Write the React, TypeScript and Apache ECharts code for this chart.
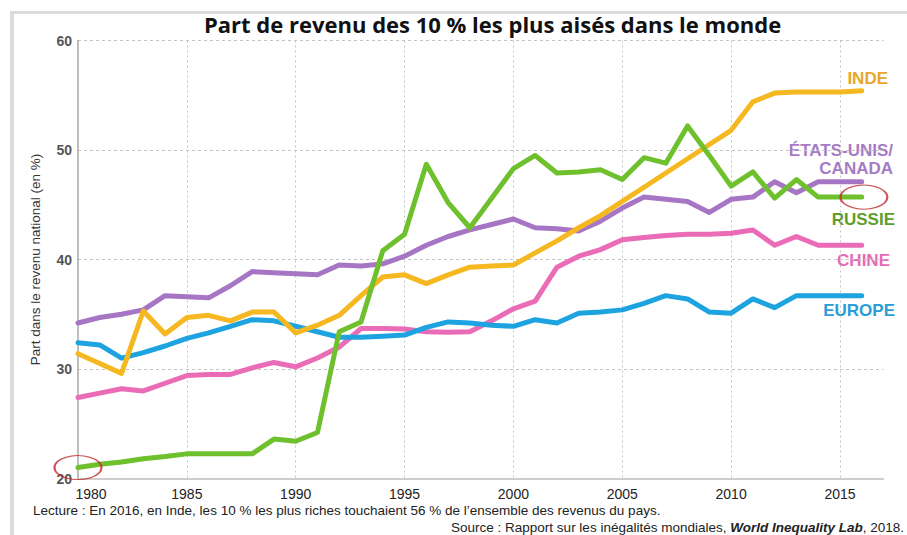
import React, { useEffect, useRef } from 'react';
import * as echarts from 'echarts';

const years = [1980, 1981, 1982, 1983, 1984, 1985, 1986, 1987, 1988, 1989, 1990, 1991, 1992, 1993, 1994, 1995, 1996, 1997, 1998, 1999, 2000, 2001, 2002, 2003, 2004, 2005, 2006, 2007, 2008, 2009, 2010, 2011, 2012, 2013, 2014, 2015, 2016];

const inde = [31.4, 30.5, 29.6, 35.3, 33.2, 34.7, 34.9, 34.4, 35.2, 35.2, 33.3, 34.0, 34.9, 36.7, 38.4, 38.6, 37.8, 38.6, 39.3, 39.4, 39.5, 40.6, 41.7, 42.9, 44.0, 45.3, 46.6, 47.9, 49.2, 50.5, 51.8, 54.4, 55.2, 55.3, 55.3, 55.3, 55.4];
const usCanada = [34.2, 34.7, 35.0, 35.4, 36.7, 36.6, 36.5, 37.6, 38.9, 38.8, 38.7, 38.6, 39.5, 39.4, 39.6, 40.3, 41.3, 42.1, 42.7, 43.2, 43.7, 42.9, 42.8, 42.6, 43.5, 44.7, 45.7, 45.5, 45.3, 44.3, 45.5, 45.7, 47.1, 46.1, 47.1, 47.1, 47.1];
const russie = [21.0, 21.3, 21.5, 21.8, 22.0, 22.25, 22.25, 22.25, 22.25, 23.6, 23.4, 24.2, 33.4, 34.3, 40.8, 42.3, 48.7, 45.2, 42.9, 45.6, 48.3, 49.5, 47.9, 48.0, 48.2, 47.3, 49.3, 48.8, 52.2, 49.5, 46.7, 48.0, 45.6, 47.3, 45.7, 45.7, 45.7];
const chine = [27.4, 27.8, 28.2, 28.0, 28.7, 29.4, 29.5, 29.5, 30.1, 30.6, 30.2, 31.0, 32.0, 33.7, 33.7, 33.65, 33.4, 33.35, 33.4, 34.4, 35.5, 36.2, 39.3, 40.3, 40.9, 41.8, 42.0, 42.2, 42.3, 42.3, 42.4, 42.7, 41.3, 42.1, 41.3, 41.3, 41.3];
const europe = [32.4, 32.2, 31.0, 31.5, 32.1, 32.8, 33.3, 33.9, 34.5, 34.4, 33.9, 33.4, 32.9, 32.9, 33.0, 33.1, 33.8, 34.3, 34.2, 34.0, 33.9, 34.5, 34.2, 35.1, 35.2, 35.4, 36.0, 36.7, 36.4, 35.2, 35.1, 36.4, 35.6, 36.7, 36.7, 36.7, 36.7];

const circledPoints = [[1980, 21.0], [2016.1, 45.7]];

const titleText = 'Part de revenu des 10 % les plus aisés dans le monde';
const yAxisName = 'Part dans le revenu national (en %)';
const lectureText = 'Lecture : En 2016, en Inde, les 10 % les plus riches touchaient 56 % de l\u2019ensemble des revenus du pays.';
const sourceBefore = 'Source : Rapport sur les inégalités mondiales, ';
const sourceItalic = 'World Inequality Lab';
const sourceAfter = ', 2018.';

const seriesNames = ['ÉTATS-UNIS/CANADA', 'CHINE', 'EUROPE', 'INDE', 'RUSSIE'];

const colors = {
  inde: '#F5B820',
  us: '#A676C4',
  russie: '#6EC02C',
  chine: '#EA6BB6',
  europe: '#1DA3DF',
};

const pairs = (vals: number[]) => years.map((y, i) => [y, vals[i]]);

export default function App() {
  const ref = useRef<HTMLDivElement>(null);
  useEffect(() => {
    if (!ref.current) return;
    const chart = echarts.init(ref.current, null, { renderer: 'svg' });
    const labelFont = 'Liberation Sans, Arial, sans-serif';
    const mkLine = (name: string, vals: number[], color: string, z: number) => ({
      name,
      type: 'line',
      data: pairs(vals),
      showSymbol: false,
      symbol: 'none',
      z,
      lineStyle: { width: 5, color, join: 'round', cap: 'round' },
      itemStyle: { color },
    });
    chart.setOption({
      animation: false,
      backgroundColor: '#ffffff',
      textStyle: { fontFamily: labelFont },
      title: {
        text: titleText,
        left: 199,
        top: 8,
        textStyle: { fontSize: 22, fontWeight: 'bold', color: '#111', fontFamily: 'Open Sans, sans-serif' },
      },
      grid: { left: 78, right: 23.5, top: 40.5, bottom: 56.5, containLabel: false },
      xAxis: {
        type: 'value',
        min: 1980,
        max: 2017,
        interval: 5,
        axisLine: { show: true, lineStyle: { color: '#bdbdbd', width: 1.5 } },
        axisTick: { show: false },
        axisLabel: {
          color: '#222',
          fontSize: 14,
          margin: 8,
          formatter: (v: number) => {
            if (v % 5 !== 0) return '';
            if (v === 1980) return '{first|1980}';
            return String(v);
          },
          rich: { first: { fontSize: 14, color: '#222', padding: [0, 0, 0, 26] } },
        },
        splitLine: {
          show: true,
          showMinLine: false,
          showMaxLine: false,
          lineStyle: { color: '#c4c4c4', type: [2, 3], width: 1 },
        },
      },
      yAxis: {
        type: 'value',
        min: 20,
        max: 60,
        interval: 10,
        name: yAxisName,
        nameLocation: 'middle',
        nameGap: 36,
        nameRotate: 90,
        nameTextStyle: { fontSize: 13.5, color: '#333' },
        axisLine: { show: true, lineStyle: { color: '#a8a8a8', width: 1.5 } },
        axisTick: { show: false },
        axisLabel: { color: '#555', fontSize: 14, fontWeight: 'bold', margin: 6 },
        splitLine: {
          show: true,
          showMinLine: false,
          lineStyle: { color: '#c4c4c4', type: [3, 3], width: 1 },
        },
      },
      series: [
        mkLine(seriesNames[0], usCanada, colors.us, 2),
        mkLine(seriesNames[1], chine, colors.chine, 3),
        mkLine(seriesNames[2], europe, colors.europe, 4),
        mkLine(seriesNames[3], inde, colors.inde, 5),
        mkLine(seriesNames[4], russie, colors.russie, 6),
        {
          name: 'cercles',
          type: 'scatter',
          data: circledPoints,
          symbol: 'circle',
          symbolSize: [47, 24],
          z: 10,
          silent: true,
          itemStyle: { color: 'rgba(0,0,0,0)', borderColor: '#C0282D', borderWidth: 1.6 },
        },
      ],
      graphic: [
        { type: 'rect', shape: { x: 10, y: 11, width: 897, height: 3 }, style: { fill: '#dcdcdc' }, silent: true },
        { type: 'rect', shape: { x: 10, y: 11, width: 4, height: 524 }, style: { fill: '#dcdcdc' }, silent: true },
        { type: 'text', x: 888, y: 78, style: { text: 'INDE', fill: '#E8A62A', font: 'bold 17px ' + labelFont, textAlign: 'right', textVerticalAlign: 'middle' } },
        { type: 'text', x: 893, y: 150, style: { text: 'ÉTATS-UNIS/', fill: '#A67BC6', font: 'bold 17px ' + labelFont, textAlign: 'right', textVerticalAlign: 'middle' } },
        { type: 'text', x: 893, y: 168, style: { text: 'CANADA', fill: '#A67BC6', font: 'bold 17px ' + labelFont, textAlign: 'right', textVerticalAlign: 'middle' } },
        { type: 'text', x: 895, y: 219, style: { text: 'RUSSIE', fill: '#5E9E2C', font: 'bold 17px ' + labelFont, textAlign: 'right', textVerticalAlign: 'middle' } },
        { type: 'text', x: 890, y: 260, style: { text: 'CHINE', fill: '#E86AB5', font: 'bold 17px ' + labelFont, textAlign: 'right', textVerticalAlign: 'middle' } },
        { type: 'text', x: 895, y: 310, style: { text: 'EUROPE', fill: '#2A9DD8', font: 'bold 17px ' + labelFont, textAlign: 'right', textVerticalAlign: 'middle' } },
        { type: 'text', x: 33, y: 510, style: { text: lectureText, fill: '#222', font: '13.5px ' + labelFont, textAlign: 'left', textVerticalAlign: 'middle' } },
        {
          type: 'text',
          x: 904,
          y: 527,
          style: {
            text: '{n|' + sourceBefore + '}{i|' + sourceItalic + '}{n|' + sourceAfter + '}',
            textAlign: 'right',
            textVerticalAlign: 'middle',
            rich: {
              n: { fill: '#222', fontSize: 13.5, fontFamily: labelFont },
              i: { fill: '#222', fontSize: 13.5, fontFamily: labelFont, fontStyle: 'italic', fontWeight: 'bold' },
            },
          },
        },
      ],
    });
    return () => chart.dispose();
  }, []);
  return <div ref={ref} style={{ position: 'fixed', left: 0, top: 0, width: 907, height: 535 }} />;
}
